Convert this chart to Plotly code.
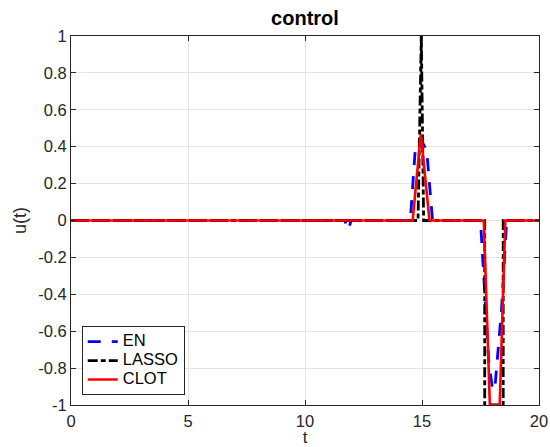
import plotly.graph_objects as go

# ---- data ----
t_en = [0, 11.7, 11.85, 11.97, 14.5, 14.72, 14.95, 15.2, 15.45, 17.5, 17.85, 18.02, 18.12, 18.4, 18.62, 20]
u_en = [0, 0, -0.05, 0, 0, 0.40, 0.44, 0.38, 0, 0, -0.76, -0.92, -0.90, -0.48, 0, 0]

t_lasso = [0, 14.83, 14.97, 15.07, 17.68, 17.68, 18.47, 18.47, 20]
u_lasso = [0, 0, 1.0, 0, 0, -1.0, -1.0, 0, 0]

t_clot = [0, 14.6, 14.95, 15.32, 17.64, 17.9, 18.32, 18.56, 20]
u_clot = [0, 0, 0.47, 0, 0, -1.0, -1.0, 0, 0]

series_names = ["EN", "LASSO", "CLOT"]
x_ticks = [0, 5, 10, 15, 20]
y_ticks = [-1, -0.8, -0.6, -0.4, -0.2, 0, 0.2, 0.4, 0.6, 0.8, 1]
y_tick_text = ["-1", "-0.8", "-0.6", "-0.4", "-0.2", "0", "0.2", "0.4", "0.6", "0.8", "1"]

AX = "#262626"
FONT = "Liberation Sans, Arial, sans-serif"


def legend_name(s):
    return "<span style='font-size:16.5px'>%s</span>" % s


fig = go.Figure()
fig.add_trace(go.Scatter(x=t_en, y=u_en, mode="lines", name=legend_name(series_names[0]),
                         line=dict(color="#0000ff", width=2.8, dash="13px,11px")))
fig.add_trace(go.Scatter(x=t_lasso, y=u_lasso, mode="lines", name=legend_name(series_names[1]),
                         line=dict(color="#000000", width=2.8, dash="10px,3px,5px,3px")))
fig.add_trace(go.Scatter(x=t_clot, y=u_clot, mode="lines", name=legend_name(series_names[2]),
                         line=dict(color="#ff0000", width=2.6)))

axis_common = dict(
    showline=True, linecolor=AX, linewidth=1, mirror="ticks",
    ticks="inside", ticklen=5, tickcolor=AX, tickwidth=1,
    showgrid=True, gridcolor="#e3e3e3", gridwidth=1,
    zeroline=False, automargin=False,
    tickfont=dict(family=FONT, size=16.5, color=AX),
)

fig.update_layout(
    width=550, height=447,
    margin=dict(l=71, r=11, t=36, b=42),
    paper_bgcolor="white", plot_bgcolor="white",
    title=dict(text="<b>control</b>", x=(71 + 539) / 2 / 550, xanchor="center",
               y=1 - 18 / 447, yanchor="middle",
               font=dict(family=FONT, size=20, color="#000000")),
    xaxis=dict(range=[0, 20], tickvals=x_ticks, ticklabelstandoff=1,
               title=dict(text="t", font=dict(family=FONT, size=17, color=AX), standoff=0),
               **axis_common),
    yaxis=dict(range=[-1, 1], tickvals=y_ticks, ticktext=y_tick_text,
               title=dict(text="u(t)", font=dict(family=FONT, size=18, color=AX), standoff=6),
               **axis_common),
    legend=dict(x=0.023, y=0.027, xanchor="left", yanchor="bottom",
                bgcolor="white", bordercolor=AX, borderwidth=1,
                font=dict(family=FONT, size=12, color="#000000"),
                tracegroupgap=0, itemwidth=30),
    showlegend=True,
)

fig.write_html("out.html")
